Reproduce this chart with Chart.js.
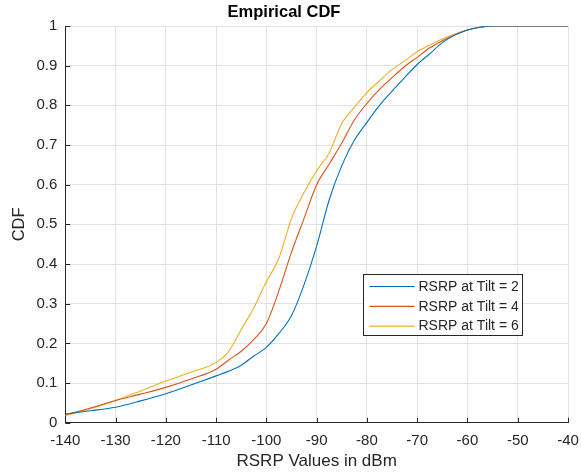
<!DOCTYPE html>
<html>
<head>
<meta charset="utf-8">
<script src="https://cdn.jsdelivr.net/npm/chart.js@4.4.1/dist/chart.umd.min.js"></script>
<style>
  html, body { margin: 0; padding: 0; background: #fff; }
  #wrap { width: 581px; height: 472px; }
</style>
</head>
<body>
<div id="wrap"><canvas id="cdf-chart" width="581" height="472"></canvas></div>
<script>
// RSRP sample points (dBm) and the empirical CDF of each tilt
const rsrp = [-140, -135, -130, -125, -120, -115, -110, -107.5, -105, -102.5, -100, -97.5, -95, -92.5, -90,
  -87.5, -85, -82.5, -80, -77.5, -75, -72.5, -70, -67.5, -65, -62.5, -60, -57.5, -55, -50, -45, -40];
const cdfTilt2 = [0.022, 0.030, 0.039, 0.055, 0.073, 0.095, 0.118, 0.130, 0.145, 0.168, 0.190, 0.225, 0.270, 0.348, 0.445,
  0.562, 0.648, 0.712, 0.757, 0.800, 0.836, 0.870, 0.903, 0.930, 0.958, 0.977, 0.990, 0.997, 1, 1, 1, 1];
const cdfTilt4 = [0.020, 0.037, 0.056, 0.072, 0.089, 0.110, 0.135, 0.158, 0.180, 0.210, 0.250, 0.333, 0.430, 0.515, 0.600,
  0.652, 0.705, 0.763, 0.805, 0.840, 0.870, 0.898, 0.921, 0.945, 0.963, 0.978, 0.990, 0.997, 1, 1, 1, 1];
const cdfTilt6 = [0.018, 0.035, 0.056, 0.080, 0.105, 0.127, 0.152, 0.180, 0.235, 0.290, 0.355, 0.415, 0.515, 0.580, 0.635,
  0.680, 0.755, 0.795, 0.832, 0.862, 0.890, 0.912, 0.935, 0.952, 0.967, 0.980, 0.990, 0.997, 1, 1, 1, 1];
const seriesLabels = ['RSRP at Tilt = 2', 'RSRP at Tilt = 4', 'RSRP at Tilt = 6'];
const seriesColors = ['#0072BD', '#D95319', '#EDB120'];

const FONT = '"Liberation Sans", Arial, Helvetica, sans-serif';
const TEXT = '#262626';

function points(ys) {
  return rsrp.map((x, i) => ({ x: x, y: ys[i] }));
}

// MATLAB style: ticks pointing into the axes
const innerTicks = {
  id: 'innerTicks',
  afterDraw(chart) {
    const { ctx, chartArea, scales } = chart;
    ctx.save();
    ctx.strokeStyle = TEXT;
    ctx.lineWidth = 1;
    ctx.beginPath();
    scales.x.ticks.forEach(t => {
      const px = Math.round(scales.x.getPixelForValue(t.value)) + 0.5;
      ctx.moveTo(px, chartArea.bottom);
      ctx.lineTo(px, chartArea.bottom - 5);
    });
    scales.y.ticks.forEach(t => {
      const py = Math.round(scales.y.getPixelForValue(t.value)) + 0.5;
      ctx.moveTo(chartArea.left, py);
      ctx.lineTo(chartArea.left + 5, py);
    });
    ctx.stroke();
    ctx.restore();
  }
};

// legend box drawn inside the plot area
const boxLegend = {
  id: 'boxLegend',
  afterDraw(chart) {
    const { ctx, scales } = chart;
    const left = Math.round(scales.x.getPixelForValue(-80.8)) + 0.5;
    const right = Math.round(scales.x.getPixelForValue(-49.2)) + 0.5;
    const top = Math.round(scales.y.getPixelForValue(0.374)) + 0.5;
    const bottom = Math.round(scales.y.getPixelForValue(0.221)) + 0.5;
    ctx.save();
    ctx.fillStyle = '#fff';
    ctx.fillRect(left, top, right - left, bottom - top);
    ctx.strokeStyle = '#262626';
    ctx.lineWidth = 1;
    ctx.strokeRect(left, top, right - left, bottom - top);
    ctx.font = '14px ' + FONT;
    ctx.textBaseline = 'middle';
    ctx.fillStyle = TEXT;
    chart.data.datasets.forEach((ds, i) => {
      const y = top + 12 + i * 19.8;
      ctx.strokeStyle = ds.borderColor;
      ctx.lineWidth = 1.2;
      ctx.beginPath();
      ctx.moveTo(left + 6, y);
      ctx.lineTo(left + 51, y);
      ctx.stroke();
      ctx.fillStyle = TEXT;
      ctx.fillText(ds.label, left + 55, y + 0.5);
    });
    ctx.restore();
  }
};

const ctx = document.getElementById('cdf-chart').getContext('2d');
const chart = new Chart(ctx, {
  type: 'line',
  data: {
    datasets: seriesLabels.map((label, i) => ({
      label: label,
      data: points([cdfTilt2, cdfTilt4, cdfTilt6][i]),
      borderColor: seriesColors[i],
      backgroundColor: seriesColors[i],
      borderWidth: 1.1,
      pointRadius: 0,
      fill: false,
      cubicInterpolationMode: 'monotone'
    }))
  },
  options: {
    responsive: false,
    animation: false,
    devicePixelRatio: 1,
    layout: { padding: { left: 0, right: 13, top: 0, bottom: 0 } },
    plugins: {
      legend: { display: false },
      tooltip: { enabled: false },
      title: {
        display: true,
        text: 'Empirical CDF',
        color: '#000',
        font: { family: FONT, size: 16.5, weight: 'bold' },
        padding: { top: 3, bottom: 3.2 }
      }
    },
    scales: {
      x: {
        type: 'linear',
        min: -140,
        max: -40,
        border: { display: true, color: '#262626', width: 1 },
        grid: { color: '#e3e3e3', drawTicks: false },
        ticks: { stepSize: 10, padding: 9, color: TEXT, font: { family: FONT, size: 15 } },
        title: {
          display: true,
          text: 'RSRP Values in dBm',
          color: TEXT,
          font: { family: FONT, size: 17 },
          padding: { top: 0, bottom: 0 }
        },
        afterFit(scale) {
          scale.height = 49.3;
          scale.paddingLeft = 0;
          scale.paddingRight = 0;
        }
      },
      y: {
        min: 0,
        max: 1,
        border: { display: true, color: '#262626', width: 1 },
        grid: { color: '#e3e3e3', drawTicks: false },
        ticks: {
          stepSize: 0.1,
          padding: 8,
          color: TEXT,
          font: { family: FONT, size: 15 },
          callback: v => String(Math.round(v * 10) / 10)
        },
        title: {
          display: true,
          text: 'CDF',
          color: TEXT,
          font: { family: FONT, size: 16.5 },
          padding: { top: 9.5, bottom: 0 }
        },
        afterFit(scale) {
          scale.width = 65.3;
          scale.paddingTop = 0;
          scale.paddingBottom = 0;
        }
      }
    }
  },
  plugins: [innerTicks, boxLegend]
});
</script>
</body>
</html>
